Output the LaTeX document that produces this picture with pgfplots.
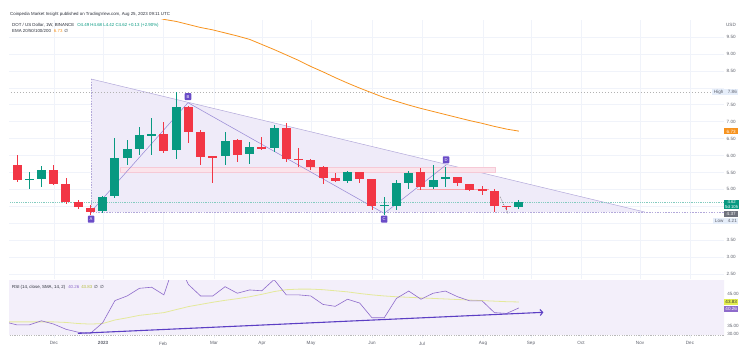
\documentclass[border=0pt]{standalone}
\usepackage{pgfplots}
\pgfplotsset{compat=1.18}
\usepackage{pgfplotstable}
\usepackage{fontspec}
\setmainfont{Liberation Sans}
\newfontfamily\dejavu{DejaVu Sans}
\usetikzlibrary{arrows.meta}

\definecolor{up}{HTML}{089981}
\definecolor{dn}{HTML}{F23645}
\definecolor{gridc}{HTML}{F0F3FA}
\definecolor{txt}{HTML}{2A2E39}
\definecolor{lbl}{HTML}{5D606B}
\definecolor{tri}{HTML}{EFEBF9}
\definecolor{triedge}{HTML}{B3A9DA}
\definecolor{zig}{HTML}{9A8CD6}
\definecolor{tag}{HTML}{6A4CC7}
\definecolor{pinkf}{HTML}{FBE4EB}
\definecolor{pinke}{HTML}{F6C9D6}
\definecolor{ema}{HTML}{F7931E}
\definecolor{rsi}{HTML}{8E6BCB}
\definecolor{rsibg}{HTML}{F3EFFA}
\definecolor{sma}{HTML}{E4E99A}
\definecolor{smabox}{HTML}{E3EE4F}
\definecolor{rsitl}{HTML}{5C3FC4}
\definecolor{hibox}{HTML}{E6EEFA}
\definecolor{graybox}{HTML}{6F727D}

\newcommand\lab{\fontsize{4.6}{5.2}\selectfont}
\newcommand\hdr{\fontsize{4.4}{5}\selectfont}

\pgfplotstableread{
i o h l c
1 5.29 5.51 5.00 5.31
2 5.30 5.69 5.07 5.57
7 4.35 4.80 4.30 4.78
8 4.81 6.51 4.75 5.92
9 5.92 6.46 5.72 6.19
10 6.19 6.85 6.02 6.60
11 6.60 7.10 6.02 6.63
13 6.16 7.88 5.90 7.44
17 5.98 6.70 5.73 6.44
19 6.04 6.41 5.75 6.24
21 6.21 6.90 6.11 6.80
27 5.26 5.55 5.18 5.50
30 4.52 4.78 4.23 4.54
31 4.52 5.28 4.40 5.18
32 5.18 5.55 5.00 5.49
34 5.08 5.72 5.00 5.28
35 5.30 5.67 5.08 5.37
41 4.49 4.68 4.42 4.62
}\upc

\pgfplotstableread{
i o h l c
0 5.72 6.01 5.22 5.28
3 5.57 5.72 5.13 5.16
4 5.16 5.33 4.57 4.64
5 4.64 4.69 4.42 4.49
6 4.46 4.54 4.24 4.34
12 6.64 7.00 6.07 6.14
14 7.44 7.46 6.36 6.69
15 6.69 6.75 5.72 5.96
16 5.98 6.00 5.18 5.96
18 6.46 6.50 5.82 6.02
20 6.24 6.56 6.15 6.18
22 6.80 6.95 5.82 5.89
23 5.90 6.21 5.65 5.88
24 5.87 5.89 5.57 5.65
25 5.65 5.68 5.16 5.33
26 5.35 5.47 5.23 5.26
28 5.50 5.52 5.18 5.31
29 5.30 5.30 4.39 4.51
33 5.50 5.62 4.98 5.06
36 5.37 5.38 5.09 5.18
37 5.16 5.16 4.95 4.98
38 5.00 5.10 4.83 4.98
39 4.96 5.00 4.32 4.51
40 4.52 4.52 4.40 4.47
}\dnc

\pgfplotstableread{
i v
11 10.12
12 10.02
13 9.96
14 9.87
15 9.78
16 9.71
17 9.62
18 9.53
19 9.43
20 9.28
21 9.13
22 8.97
23 8.81
24 8.63
25 8.47
26 8.30
27 8.14
28 7.99
29 7.85
30 7.71
31 7.60
32 7.49
33 7.39
34 7.30
35 7.21
36 7.12
37 7.03
38 6.95
39 6.86
40 6.78
41 6.72
}\emat

\pgfplotstableread{
i r s
-1 34.8 34.8
0 33.7 34.8
1 33.7 34.8
2 35.2 34.8
3 34.0 34.8
4 32.1 34.6
5 31.0 34.2
6 30.6 34.0
7 34.5 34.2
8 42.6 35.5
9 44.3 36.3
10 47.1 37.2
11 47.5 37.7
12 44.7 38.2
13 58.0 39.3
14 48.5 40.4
15 44.3 41.2
16 44.3 42.0
17 47.7 42.7
18 45.3 43.3
19 46.5 44.0
20 46.2 44.9
21 50.3 45.9
22 44.7 46.6
23 44.7 46.8
24 44.3 46.8
25 41.2 46.6
26 40.5 46.2
27 43.1 45.8
28 41.7 45.2
29 36.3 44.7
30 36.3 44.3
31 43.4 44.0
32 46.1 43.8
33 43.1 43.6
34 45.3 43.4
35 46.1 43.2
36 44.0 43.0
37 42.5 42.8
38 42.5 42.6
39 38.2 42.4
40 37.9 42.2
41 39.9 42.1
}\rsit

\begin{document}
\begin{tikzpicture}
\useasboundingbox (0bp,0bp) rectangle (750bp,352bp);

% ---------------- main price pane ----------------
\begin{axis}[
  at={(9bp,332bp)}, anchor=north west, scale only axis,
  width=715bp, height=259bp,
  xmin=-0.6536, xmax=57.76, ymin=2.353, ymax=10.002,
  axis line style={draw=none}, major tick length=0pt,
  xtick={3.02,7.03,11.93,16.09,20.02,24.02,29.0,33.09,38.07,41.99,46.08,50.9,54.98},
  xticklabels={},
  ytick={2.5,3,3.5,4,4.5,5,5.5,6,6.5,7,7.5,8,8.5,9,9.5},
  yticklabels={2.50,3.00,3.50,,,5.00,5.50,6.00,6.50,7.00,7.50,,8.50,9.00,9.50},
  yticklabel pos=right,
  yticklabel style={font=\lab, text=lbl, inner sep=0pt, anchor=west, xshift=2.5bp},
  grid=major, major grid style={gridc, line width=0.5bp},
]
% triangle pattern
\addplot[fill=tri, draw=none, forget plot] coordinates {(6.05,8.26) (51.3,4.33) (6.05,4.33)} -- cycle;
\addplot[triedge, line width=0.5bp, forget plot] coordinates {(6.05,8.26) (51.3,4.33)};
\addplot[triedge, line width=0.5bp, dash pattern=on 1.5bp off 1.2bp, forget plot] coordinates {(6.05,8.26) (6.05,4.33) (58,4.33)};
% pink zone
\addplot[fill=pinkf, draw=pinke, line width=0.4bp, forget plot] coordinates {(8.41,5.51) (39.05,5.51) (39.05,5.66) (8.41,5.66)} -- cycle;
\addplot[dn!45, line width=0.5bp, forget plot] coordinates {(32.7,5.0) (38.6,5.0)};
% high / price lines
\addplot[gray!60, line width=0.4bp, dash pattern=on 1.5bp off 1.5bp, forget plot] coordinates {(-1,7.86) (58,7.86)};
\addplot[up!50, line width=0.4bp, dash pattern=on 0.6bp off 1.2bp, forget plot] coordinates {(-1,4.62) (58,4.62)};
% EMA
\addplot[ema, line width=0.8bp, forget plot] table[x=i, y=v] {\emat};
% zigzag ABCD
\addplot[zig, line width=0.55bp, forget plot] coordinates {(6.05,4.34) (13.97,7.56) (30.0,4.29) (35.05,5.72)};
\addplot[black!60, line width=0.5bp, dash pattern=on 1bp off 1bp, forget plot] coordinates {(39.46,4.78) (40.11,4.29)};
% candles: wicks
\addplot[draw=none, mark=none, forget plot, error bars/.cd, y dir=both, y explicit, error mark=none, error bar style={draw=up, line width=0.9bp}]
  table[x=i, y expr={(\thisrow{h}+\thisrow{l})/2}, y error expr={(\thisrow{h}-\thisrow{l})/2}] {\upc};
\addplot[draw=none, mark=none, forget plot, error bars/.cd, y dir=both, y explicit, error mark=none, error bar style={draw=dn, line width=0.9bp}]
  table[x=i, y expr={(\thisrow{h}+\thisrow{l})/2}, y error expr={(\thisrow{h}-\thisrow{l})/2}] {\dnc};
% candles: bodies
\addplot[draw=none, mark=none, forget plot, error bars/.cd, y dir=both, y explicit, error mark=none, error bar style={draw=up, line width=9bp}]
  table[x=i, y expr={(\thisrow{o}+\thisrow{c})/2}, y error expr={max(abs(\thisrow{o}-\thisrow{c})/2,0.016)}] {\upc};
\addplot[draw=none, mark=none, forget plot, error bars/.cd, y dir=both, y explicit, error mark=none, error bar style={draw=dn, line width=9bp}]
  table[x=i, y expr={(\thisrow{o}+\thisrow{c})/2}, y error expr={max(abs(\thisrow{o}-\thisrow{c})/2,0.016)}] {\dnc};
% tags
\tikzset{tagn/.style={fill=tag, text=white, font=\fontsize{4.2}{4.2}\selectfont, inner sep=0pt, minimum width=6.5bp, minimum height=7bp, rounded corners=0.8bp}}
\node[tagn] at (axis cs:6.05,4.12) {A};
\node[tagn] at (axis cs:13.97,7.74) {B};
\node[tagn] at (axis cs:30.0,4.12) {C};
\node[tagn] at (axis cs:35.05,5.87) {D};
\end{axis}

% ---------------- RSI pane ----------------
\begin{axis}[
  at={(9bp,71bp)}, anchor=north west, scale only axis,
  width=715bp, height=57bp,
  xmin=-0.6536, xmax=57.76, ymin=28.9, ymax=49.78,
  axis line style={draw=none}, major tick length=0pt,
  xtick={3.02,7.03,11.93,16.09,20.02,24.02,29.0,33.09,38.07,41.99,46.08,50.9,54.98},
  xticklabels={Dec,\textbf{2023},Feb,Mar,Apr,May,Jun,Jul,Aug,Sep,Oct,Nov,Dec},
  xticklabel style={font=\lab, text=lbl, inner sep=0pt, yshift=-3.5bp},
  ytick=\empty,
  xmajorgrids, major grid style={gridc, line width=0.5bp},
]
\addplot[fill=rsibg, draw=none, forget plot] coordinates {(-1,30) (58,30) (58,70) (-1,70)} -- cycle;
\addplot[gray!55, line width=0.4bp, dash pattern=on 1.2bp off 1.2bp, forget plot] coordinates {(-1,30) (58,30)};
\addplot[sma, line width=0.8bp, forget plot] table[x=i, y=s] {\rsit};
\addplot[rsi, line width=0.6bp, forget plot] table[x=i, y=r] {\rsit};
\addplot[rsitl, line width=1.1bp, -{Straight Barb[length=2.5bp,width=6bp]}, forget plot] coordinates {(4.98,30.6) (43.0,38.3)};
\end{axis}

% ---------------- header texts ----------------
\node[anchor=base west, font=\hdr, text=txt, inner sep=0pt] at (10bp,336bp) {Coinpedia Market Insight published on TradingView.com, Aug 25, 2023 09:11 UTC};
\node[anchor=base west, font=\hdr, text=txt, inner sep=0pt] at (12bp,325bp) {DOT / US Dollar, 1W, BINANCE\hspace{3bp}\textcolor{up}{O4.49 H4.68 L4.42 C4.62 +0.13 (+2.90\%)}};
\node[anchor=base west, font=\hdr, text=txt, inner sep=0pt] at (12bp,319.5bp) {EMA 20/50/100/200\hspace{3bp}\textcolor{ema}{6.73}\hspace{2bp}{\dejavu ∅}};
\node[anchor=base west, font=\hdr, text=txt, inner sep=0pt] at (12bp,63bp) {RSI (14, close, SMA, 14, 2)\hspace{3bp}\textcolor{rsi}{40.26}\hspace{2bp}\textcolor{smabox!80!black}{43.83}\hspace{2bp}{\dejavu ∅}\hspace{2bp}{\dejavu ∅}};

% ---------------- right scale labels ----------------
\node[font=\lab, text=lbl, inner sep=0pt] at (731bp,327bp) {USD};
\node[anchor=east, fill=hibox, font=\lab, text=lbl, inner xsep=1.5bp, inner ysep=0pt, minimum height=6bp] at (738.5bp,260bp) {High\hspace{4.5bp}7.86};
\node[anchor=west, fill=ema, text=white, font=\lab, inner sep=0pt, minimum width=14bp, minimum height=6bp] at (724bp,220.5bp) {6.73};
\node[anchor=north west, fill=up, text=white, font=\fontsize{4.3}{4.8}\selectfont, inner sep=0.6bp, minimum width=15bp, align=center] at (724bp,152.5bp) {4.62\\5d 10h};
\node[anchor=west, fill=graybox, text=white, font=\lab, inner sep=0pt, minimum width=14bp, minimum height=6bp] at (724bp,138bp) {4.37};
\node[anchor=east, fill=hibox, font=\lab, text=lbl, inner xsep=1.5bp, inner ysep=0pt, minimum height=6bp] at (738.5bp,131bp) {Low\hspace{4.5bp}4.21};
\node[font=\lab, text=lbl, inner sep=0pt] at (733bp,58bp) {45.00};
\node[anchor=west, fill=smabox, text=black!80, font=\lab, inner sep=0pt, minimum width=14bp, minimum height=5.5bp] at (724bp,50bp) {43.83};
\node[anchor=west, fill=rsi, text=white, font=\lab, inner sep=0pt, minimum width=14bp, minimum height=5.5bp] at (724bp,43bp) {40.26};
\node[font=\lab, text=lbl, inner sep=0pt] at (733bp,26bp) {35.00};
\node[font=\lab, text=lbl, inner sep=0pt] at (733bp,18bp) {30.00};
\end{tikzpicture}
\end{document}
